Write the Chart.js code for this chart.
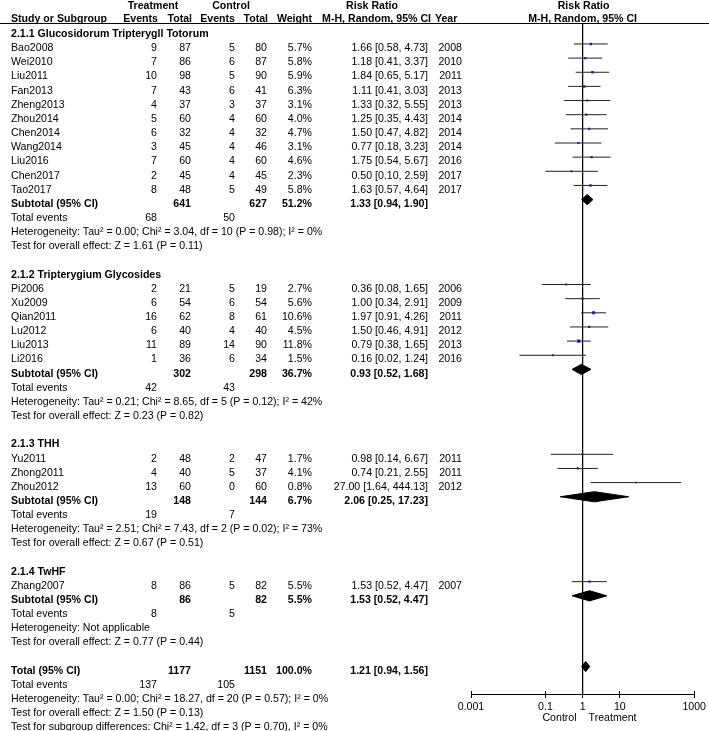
<!DOCTYPE html>
<html>
<head>
<meta charset="utf-8">
<script src="https://cdn.jsdelivr.net/npm/chart.js@4.4.1/dist/chart.umd.min.js"></script>
<style>
  html, body { margin: 0; padding: 0; background: #fff; }
  canvas { display: block; }
</style>
</head>
<body>
<canvas id="forest" width="709" height="731"></canvas>
<script>
// Data
const groupTitles = ['2.1.1 Glucosidorum Tripterygll Totorum', '2.1.2 Tripterygium Glycosides', '2.1.3 THH', '2.1.4 TwHF'];
const groupSizes = [11, 6, 3, 1];

const studyNames = ['Bao2008', 'Wei2010', 'Liu2011', 'Fan2013', 'Zheng2013', 'Zhou2014', 'Chen2014', 'Wang2014', 'Liu2016', 'Chen2017', 'Tao2017',
  'Pi2006', 'Xu2009', 'Qian2011', 'Lu2012', 'Liu2013', 'Li2016',
  'Yu2011', 'Zhong2011', 'Zhou2012',
  'Zhang2007'];
const treatEvents = [9, 7, 10, 7, 4, 5, 6, 3, 7, 2, 8, 2, 6, 16, 6, 11, 1, 2, 4, 13, 8];
const treatTotal = [87, 86, 98, 43, 37, 60, 32, 45, 60, 45, 48, 21, 54, 62, 40, 89, 36, 48, 40, 60, 86];
const ctrlEvents = [5, 6, 5, 6, 3, 4, 4, 4, 4, 4, 5, 5, 6, 8, 4, 14, 6, 2, 5, 0, 5];
const ctrlTotal = [80, 87, 90, 41, 37, 60, 32, 46, 60, 45, 49, 19, 54, 61, 40, 90, 34, 47, 37, 60, 82];
const weights = [5.7, 5.8, 5.9, 6.3, 3.1, 4.0, 4.7, 3.1, 4.6, 2.3, 5.8, 2.7, 5.6, 10.6, 4.5, 11.8, 1.5, 1.7, 4.1, 0.8, 5.5];
const riskRatio = [1.66, 1.18, 1.84, 1.11, 1.33, 1.25, 1.50, 0.77, 1.75, 0.50, 1.63, 0.36, 1.00, 1.97, 1.50, 0.79, 0.16, 0.98, 0.74, 27.00, 1.53];
const ciLow = [0.58, 0.41, 0.65, 0.41, 0.32, 0.35, 0.47, 0.18, 0.54, 0.10, 0.57, 0.08, 0.34, 0.91, 0.46, 0.38, 0.02, 0.14, 0.21, 1.64, 0.52];
const ciHigh = [4.73, 3.37, 5.17, 3.03, 5.55, 4.43, 4.82, 3.23, 5.67, 2.59, 4.64, 1.65, 2.91, 4.26, 4.91, 1.65, 1.24, 6.67, 2.55, 444.13, 4.47];
const years = [2008, 2010, 2011, 2013, 2013, 2014, 2014, 2014, 2016, 2017, 2017, 2006, 2009, 2011, 2012, 2013, 2016, 2011, 2011, 2012, 2007];

const subTreatTotal = [641, 302, 148, 86];
const subCtrlTotal = [627, 298, 144, 82];
const subWeight = [51.2, 36.7, 6.7, 5.5];
const subRR = [1.33, 0.93, 2.06, 1.53];
const subLow = [0.94, 0.52, 0.25, 0.52];
const subHigh = [1.90, 1.68, 17.23, 4.47];
const subTreatEvents = [68, 42, 19, 8];
const subCtrlEvents = [50, 43, 7, 5];
const subHeterogeneity = [
  'Heterogeneity: Tau² = 0.00; Chi² = 3.04, df = 10 (P = 0.98); I² = 0%',
  'Heterogeneity: Tau² = 0.21; Chi² = 8.65, df = 5 (P = 0.12); I² = 42%',
  'Heterogeneity: Tau² = 2.51; Chi² = 7.43, df = 2 (P = 0.02); I² = 73%',
  'Heterogeneity: Not applicable'];
const subOverall = [
  'Test for overall effect: Z = 1.61 (P = 0.11)',
  'Test for overall effect: Z = 0.23 (P = 0.82)',
  'Test for overall effect: Z = 0.67 (P = 0.51)',
  'Test for overall effect: Z = 0.77 (P = 0.44)'];

const totalTreat = 1177, totalCtrl = 1151, totalWeight = 100.0;
const totalRR = 1.21, totalLow = 0.94, totalHigh = 1.56;
const totalTreatEvents = 137, totalCtrlEvents = 105;
const totalNotes = [
  'Heterogeneity: Tau² = 0.00; Chi² = 18.27, df = 20 (P = 0.57); I² = 0%',
  'Test for overall effect: Z = 1.50 (P = 0.13)',
  'Test for subgroup differences: Chi² = 1.42, df = 3 (P = 0.70), I² = 0%'];

const tickValues = [0.001, 0.1, 1, 10, 1000];
const tickLabels = ['0.001', '0.1', '1', '10', '1000'];

// Layout / style
const FONT = '"Liberation Sans", Arial, sans-serif';
const FS = 10.6;
const TEXT_SHIFT = 4.3;     // text sits a little below the marks
const DIAMOND_HALF = 0.36;  // in row units
const Y_MIN = -0.41, Y_MAX = 46.94;
const COL = { name: 11, tEv: 157, tTot: 191, cEv: 235, cTot: 267, wt: 312, ci: 428, year: 462 };

// work out which row everything goes on
const studyRow = [], groupRow = [], subRow = [];
let row = 0, k = 0;
groupSizes.forEach(n => {
  groupRow.push(row++);
  for (let i = 0; i < n; i++) studyRow[k++] = row++;
  subRow.push(row);
  row += 5; // subtotal, total events, heterogeneity, overall effect, blank
});
const totalRow = row;

const ciText = (m, lo, hi) => `${m.toFixed(2)} [${lo.toFixed(2)}, ${hi.toFixed(2)}]`;

function diamond(m, lo, hi, r) {
  return {
    data: [{ x: lo, y: r }, { x: m, y: r - DIAMOND_HALF }, { x: hi, y: r }, { x: m, y: r + DIAMOND_HALF }, { x: lo, y: r }],
    showLine: true, fill: 'shape', tension: 0,
    borderColor: '#000', backgroundColor: '#000', borderWidth: 1,
    pointRadius: 0, order: 1
  };
}

const datasets = [];
// study markers
datasets.push({
  data: riskRatio.map((v, i) => ({ x: v, y: studyRow[i] })),
  pointStyle: 'rect',
  pointRadius: weights.map(w => (1.6 + w * 0.14) / Math.SQRT2),
  pointBackgroundColor: '#1f1fa8', pointBorderWidth: 0,
  showLine: false, order: 0
});
// confidence intervals
ciLow.forEach((lo, i) => {
  datasets.push({
    data: [{ x: lo, y: studyRow[i] }, { x: ciHigh[i], y: studyRow[i] }],
    showLine: true, borderColor: '#222', borderWidth: 1, pointRadius: 0, order: 1
  });
});
// subtotal + total diamonds
subRR.forEach((m, g) => datasets.push(diamond(m, subLow[g], subHigh[g], subRow[g])));
datasets.push(diamond(totalRR, totalLow, totalHigh, totalRow));
// line of no effect
datasets.push({
  data: [{ x: 1, y: Y_MIN }, { x: 1, y: Y_MAX }],
  showLine: true, borderColor: '#000', borderWidth: 1, pointRadius: 0, order: 2
});

const tableText = {
  id: 'tableText',
  afterDraw(chart) {
    const ctx = chart.ctx;
    const xs = chart.scales.x, ys = chart.scales.y;
    const ty = r => ys.getPixelForValue(r) + TEXT_SHIFT;
    const put = (s, px, py, align, bold) => {
      ctx.font = (bold ? 'bold ' : '') + FS + 'px ' + FONT;
      ctx.textAlign = align;
      ctx.fillText(s, px, py);
    };
    ctx.save();
    ctx.fillStyle = '#000';
    ctx.textBaseline = 'middle';

    // headers
    const one = xs.getPixelForValue(1);
    put('Treatment', 153, 6.5, 'center', true);
    put('Control', 231, 6.5, 'center', true);
    put('Risk Ratio', 372, 6.5, 'center', true);
    put('Risk Ratio', one + 1, 6.5, 'center', true);
    put('Study or Subgroup', COL.name, 19.3, 'left', true);
    put('Events', COL.tEv + 1, 19.3, 'right', true);
    put('Total', COL.tTot + 1, 19.3, 'right', true);
    put('Events', COL.cEv, 19.3, 'right', true);
    put('Total', COL.cTot + 1, 19.3, 'right', true);
    put('Weight', COL.wt, 19.3, 'right', true);
    put('M-H, Random, 95% CI', 431, 19.3, 'right', true);
    put('Year', 435, 19.3, 'left', true);
    put('M-H, Random, 95% CI', one, 19.3, 'center', true);
    ctx.strokeStyle = '#000';
    ctx.lineWidth = 1;
    ctx.beginPath();
    ctx.moveTo(0, 23.5);
    ctx.lineTo(chart.width, 23.5);
    ctx.stroke();

    // groups
    groupTitles.forEach((t, g) => {
      put(t, COL.name, ty(groupRow[g]), 'left', true);
      const sr = subRow[g];
      put('Subtotal (95% CI)', COL.name, ty(sr), 'left', true);
      put(String(subTreatTotal[g]), COL.tTot, ty(sr), 'right', true);
      put(String(subCtrlTotal[g]), COL.cTot, ty(sr), 'right', true);
      put(subWeight[g].toFixed(1) + '%', COL.wt, ty(sr), 'right', true);
      put(ciText(subRR[g], subLow[g], subHigh[g]), COL.ci, ty(sr), 'right', true);
      put('Total events', COL.name, ty(sr + 1), 'left', false);
      put(String(subTreatEvents[g]), COL.tEv, ty(sr + 1), 'right', false);
      put(String(subCtrlEvents[g]), COL.cEv, ty(sr + 1), 'right', false);
      put(subHeterogeneity[g], COL.name, ty(sr + 2), 'left', false);
      put(subOverall[g], COL.name, ty(sr + 3), 'left', false);
    });

    // studies
    studyNames.forEach((nm, i) => {
      const py = ty(studyRow[i]);
      put(nm, COL.name, py, 'left', false);
      put(String(treatEvents[i]), COL.tEv, py, 'right', false);
      put(String(treatTotal[i]), COL.tTot, py, 'right', false);
      put(String(ctrlEvents[i]), COL.cEv, py, 'right', false);
      put(String(ctrlTotal[i]), COL.cTot, py, 'right', false);
      put(weights[i].toFixed(1) + '%', COL.wt, py, 'right', false);
      put(ciText(riskRatio[i], ciLow[i], ciHigh[i]), COL.ci, py, 'right', false);
      put(String(years[i]), COL.year, py, 'right', false);
    });

    // overall
    put('Total (95% CI)', COL.name, ty(totalRow), 'left', true);
    put(String(totalTreat), COL.tTot, ty(totalRow), 'right', true);
    put(String(totalCtrl), COL.cTot, ty(totalRow), 'right', true);
    put(totalWeight.toFixed(1) + '%', COL.wt, ty(totalRow), 'right', true);
    put(ciText(totalRR, totalLow, totalHigh), COL.ci, ty(totalRow), 'right', true);
    put('Total events', COL.name, ty(totalRow + 1), 'left', false);
    put(String(totalTreatEvents), COL.tEv, ty(totalRow + 1), 'right', false);
    put(String(totalCtrlEvents), COL.cEv, ty(totalRow + 1), 'right', false);
    totalNotes.forEach((t, j) => put(t, COL.name, ty(totalRow + 2 + j), 'left', false));

    // small upward part of the axis ticks
    ctx.beginPath();
    xs.ticks.forEach(t => {
      const px = Math.round(xs.getPixelForValue(t.value) - 0.5) + 0.5;
      ctx.moveTo(px, xs.top - 3);
      ctx.lineTo(px, xs.top);
    });
    ctx.stroke();

    put('Control', one - 6, 718.5, 'right', false);
    put('Treatment', one + 6, 718.5, 'left', false);
    ctx.restore();
  }
};

new Chart(document.getElementById('forest'), {
  type: 'scatter',
  data: { datasets },
  options: {
    responsive: false,
    animation: false,
    layout: { padding: { left: 471, right: 11, top: 24, bottom: 0 } },
    plugins: { legend: { display: false }, tooltip: { enabled: false } },
    scales: {
      x: {
        type: 'logarithmic', min: 0.001, max: 1000, position: 'bottom',
        afterFit: s => { s.height = 37; },
        afterBuildTicks: s => { s.ticks = tickValues.map(v => ({ value: v })); },
        grid: { drawOnChartArea: false, drawTicks: true, tickLength: 4, color: '#000', lineWidth: 1 },
        border: { display: true, color: '#000', width: 1 },
        ticks: {
          autoSkip: false, maxRotation: 0, padding: 3, color: '#000',
          font: { family: FONT, size: FS },
          callback: (v, i) => tickLabels[i]
        }
      },
      y: { type: 'linear', display: false, min: Y_MIN, max: Y_MAX, reverse: true }
    }
  },
  plugins: [tableText]
});
</script>
</body>
</html>
